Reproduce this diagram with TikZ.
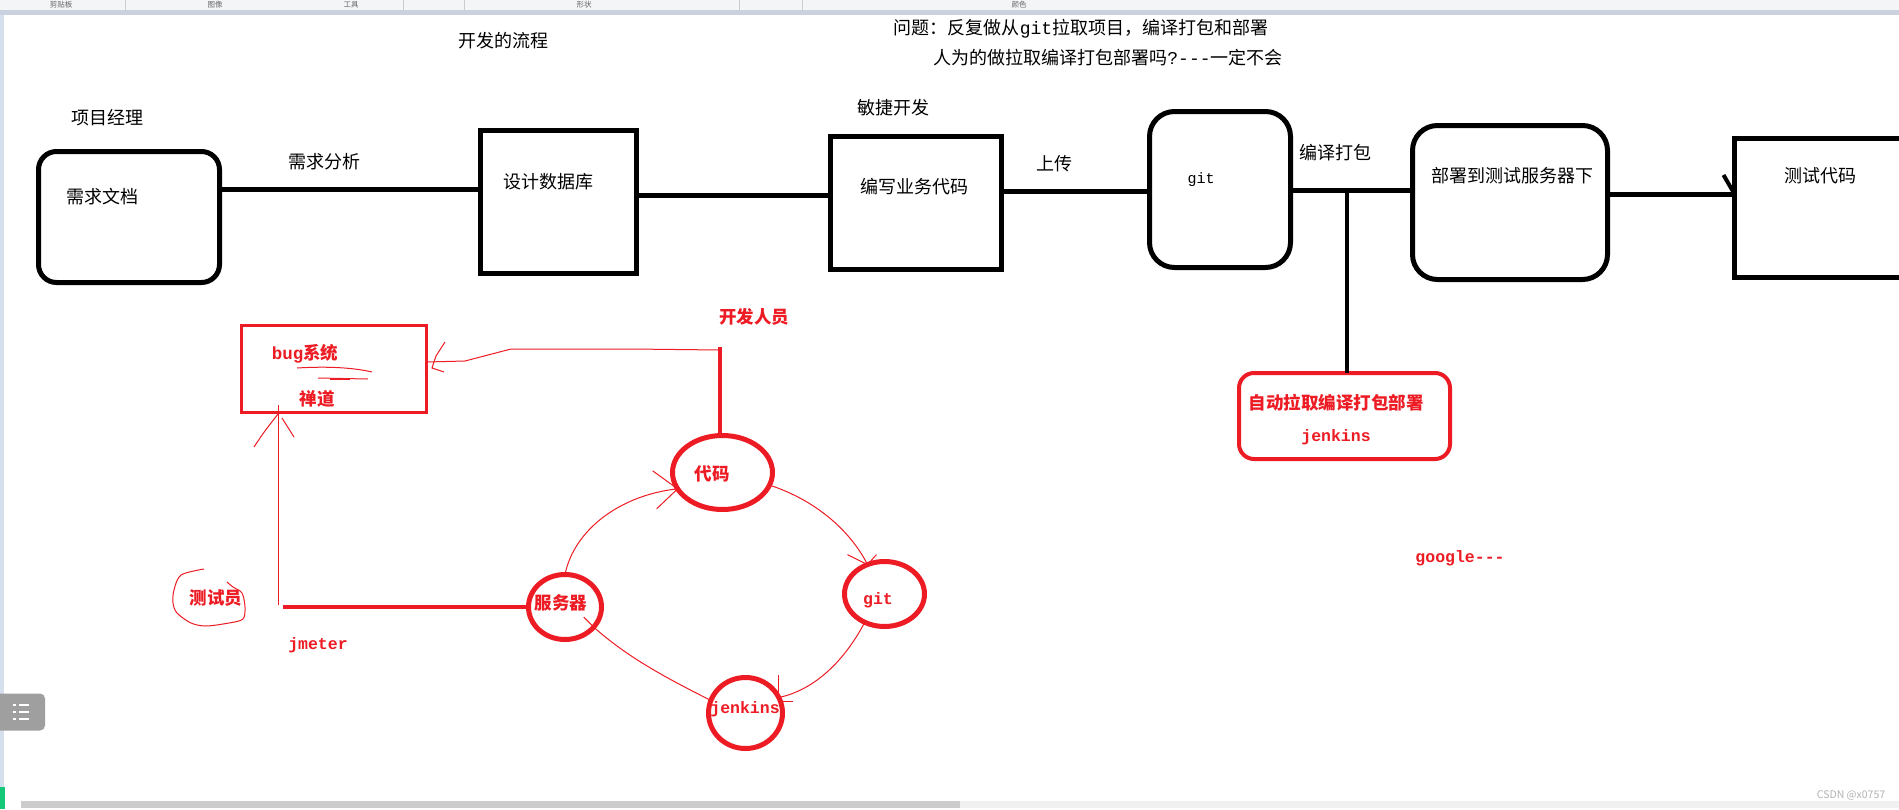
\documentclass[tikz,border=0pt]{standalone}
\usepackage{fontspec}
\setmainfont{Noto Sans CJK SC}
\newfontfamily\monof{Liberation Mono}
\usetikzlibrary{calc,shapes.geometric}
\definecolor{pred}{RGB}{237,28,36}
\definecolor{stripc}{RGB}{201,210,222}
\definecolor{leftc}{RGB}{214,224,236}
\definecolor{barc}{RGB}{244,245,247}
\definecolor{greenc}{RGB}{20,200,120}
\begin{document}
\begin{tikzpicture}[x=1pt,y=-1pt,
  bbox/.style={draw=black,line width=5pt,inner sep=0pt,outer sep=0pt},
  rbox/.style={bbox,rounded corners=18pt},
  bline/.style={line width=5pt},
  btxt/.style={inner sep=0pt,font=\fontsize{18}{20}\selectfont},
  bmono/.style={inner sep=0pt,font=\fontsize{15}{18}\selectfont\monof},
  rtxt/.style={inner sep=0pt,text=pred,font=\fontsize{17.5}{20}\selectfont\bfseries},
  rmono/.style={inner sep=0pt,text=pred,font=\fontsize{16.5}{20}\selectfont\monof\bfseries},
  rell/.style={draw=pred,ellipse,line width=5pt,inner sep=0pt,outer sep=0pt},
  thinr/.style={draw=pred,line width=1pt},
  thickr/.style={draw=pred,line width=4.5pt},
  uitxt/.style={inner sep=0pt,text=gray!80!black,font=\fontsize{7.5}{8}\selectfont},
]
\useasboundingbox (0,0) rectangle (1899,809);
\clip (0,0) rectangle (1899,809);
\fill[white] (0,0) rectangle (1899,809);

% UI chrome
\fill[barc] (0,0) rectangle (1899,10);
\node[uitxt] (u1) at (61,5) {剪贴板};
\node[uitxt] (u2) at (215,5) {图像};
\node[uitxt] (u3) at (351,5) {工具};
\node[uitxt] (u4) at (584,5) {形状};
\node[uitxt] (u5) at (1019,5) {颜色};
\foreach \sx in {125,403,464,739,802}{\draw[gray!40] (\sx,0) -- (\sx,10);}
\fill[stripc] (0,10) rectangle (1899,15);
\fill[leftc] (0,15) rectangle (4,809);
\fill[greenc] (0,787) rectangle (5,809);
\fill[gray!12] (21,801) rectangle (1899,808);
\fill[gray!40] (21,801) rectangle (960,808);
\node[fill=gray!75,rounded corners=5pt,minimum width=50,minimum height=37,inner sep=0pt] (btn) at (20,712) {};
\foreach \ry in {705,712,719}{
  \fill[white] (13,\ry-1) rectangle (16,\ry+1);
  \fill[white] (19,\ry-1) rectangle (29,\ry+1);
}
\node[inner sep=0pt,text=gray!60,font=\fontsize{10.5}{11}\selectfont] (wm) at (1851,795) {CSDN @x0757};

% black flow
\node[btxt] (t0) at (503,41) {开发的流程};
\node[btxt] (q1) at (1081,29) {问题：反复做从{\monof git}拉取项目，编译打包和部署};
\node[btxt] (q2) at (1108,58) {人为的做拉取编译打包部署吗{\monof ?---}一定不会};
\node[btxt] (pm) at (107,118) {项目经理};

\node[rbox,minimum width=181,minimum height=131] (A) at (129,217) {};
\node[bbox,minimum width=156,minimum height=143] (B) at (558.5,202) {};
\node[bbox,minimum width=171,minimum height=133] (C) at (916,203) {};
\node[rbox,rounded corners=25pt,minimum width=141,minimum height=156] (D) at (1220,189.5) {};
\node[rbox,rounded corners=25pt,minimum width=195,minimum height=154] (E) at (1510,202.5) {};
\node[bbox,minimum width=200,minimum height=139] (F) at (1834.5,208) {};

\node[btxt] (At) at (102,197) {需求文档};
\node[btxt] (Bt) at (548,182) {设计数据库};
\node[btxt] (Ct) at (914,187) {编写业务代码};
\node[bmono] (Dt) at (1201,180) {git};
\node[btxt] (Et) at (1512,176) {部署到测试服务器下};
\node[btxt] (Ft) at (1820,176) {测试代码};

\node[btxt] (l1) at (324,162) {需求分析};
\node[btxt] (l2) at (893,108) {敏捷开发};
\node[btxt] (l3) at (1054,164) {上传};
\node[btxt] (l4) at (1335,153) {编译打包};

\draw[bline] (A.east |- 0,189) -- (B.west |- 0,189);
\draw[bline] (B.east |- 0,195) -- (C.west |- 0,195);
\draw[bline] (C.east |- 0,191) -- (D.west |- 0,191);
\draw[bline] (D.east |- 0,190) -- (E.west |- 0,190);
\draw[bline] (E.east |- 0,194) -- (F.west |- 0,194);
\draw[line width=4pt] (F.west |- 0,194) -- ++(-11,-19);

% jenkins box
\node[draw=pred,line width=4pt,rounded corners=15pt,minimum width=211,minimum height=86,inner sep=0pt,outer sep=0pt] (JB) at (1344.5,416) {};
\node[rtxt] (JB1) at (1336,403) {自动拉取编译打包部署};
\node[rmono] (JB2) at (1336,437) {jenkins};
\coordinate (jj) at (1347,190);
\draw[line width=4.5pt] (jj) -- (jj |- JB.north);
\node[rmono] (gg) at (1460,558) {google---};

% red part
\node[draw=pred,line width=3pt,minimum width=185,minimum height=87,inner sep=0pt,outer sep=0pt] (R1) at (334,369) {};
\node[rtxt] (R1a) at (305,354) {{\monof bug}系统};
\node[rtxt] (R1b) at (317,399) {禅道};
\draw[thinr] (297,368) .. controls (330,366) and (355,368) .. (372,372);
\draw[thinr] (318,378) -- (368,379);
\draw[pred,line width=2pt] (330,378.5) -- (350,378.5);

\node[rtxt] (dev) at (754,317) {开发人员};
\node[rell,minimum width=100,minimum height=74] (K) at (722.5,472.5) {};
\node[rell,minimum width=73,minimum height=65] (S) at (565,607) {};
\node[rell,minimum width=80,minimum height=65] (G) at (884.5,594) {};
\node[rell,minimum width=74,minimum height=71] (J) at (745.5,713) {};
\node[rtxt] (Kt) at (712,474) {代码};
\node[rtxt] (St) at (561,603) {服务器};
\node[rmono] (Gt) at (878,600) {git};
\node[rmono] (Jt) at (745,709) {jenkins};

\coordinate (dv) at (720,347);
\draw[thickr] (dv) -- (dv |- K.north);
\draw[thinr] (720,350) -- (631,349) -- (511,349) -- (465,361) -- (R1.east |- 0,362);
\draw[thinr] (445,342) -- (436,356) -- (432,368) -- (444,372);

\node[rtxt] (tst) at (216,598) {测试员};
\draw[thinr] plot[smooth] coordinates {(204,569) (181,575) (174,590) (173,603) (177,613) (191,623) (206,626) (229,623) (243,619) (245,607) (242,593) (233,587) (227,582)};
\node[rmono] (jm) at (318,645) {jmeter};
\coordinate (tl) at (283,607);
\draw[thickr] (tl) -- (S.west);
\coordinate (tv) at (278,605);
\draw[thinr] (tv) -- (tv |- 0,405);
\draw[thinr] (254,447) .. controls (264,432) .. (278,414);
\draw[thinr] (282,418) -- (294,437);

% cycle arrows
\draw[thinr] (S.north) .. controls (574,530) and (620,495) .. (K.200);
\draw[thinr] (K.200) ++(-25,-18) -- (K.200) -- ++(-21,20);
\draw[thinr] (K.-15) .. controls (815,500) and (850,530) .. (G.120);
\draw[thinr] (G.120) ++(-20,-10) -- (G.120) -- ++(9,-10);
\draw[thinr] (G.-125) .. controls (845,660) and (815,690) .. (J.25);
\draw[thinr] (J.25) -- ++(0,-22);
\draw[thinr] (J.25) ++(0,4) -- ++(14,0);
\draw[thinr] (J.160) .. controls (660,675) and (625,655) .. (S.-35);
\draw[thinr] (S.-35) -- ++(-10,-10);
\end{tikzpicture}
\end{document}
